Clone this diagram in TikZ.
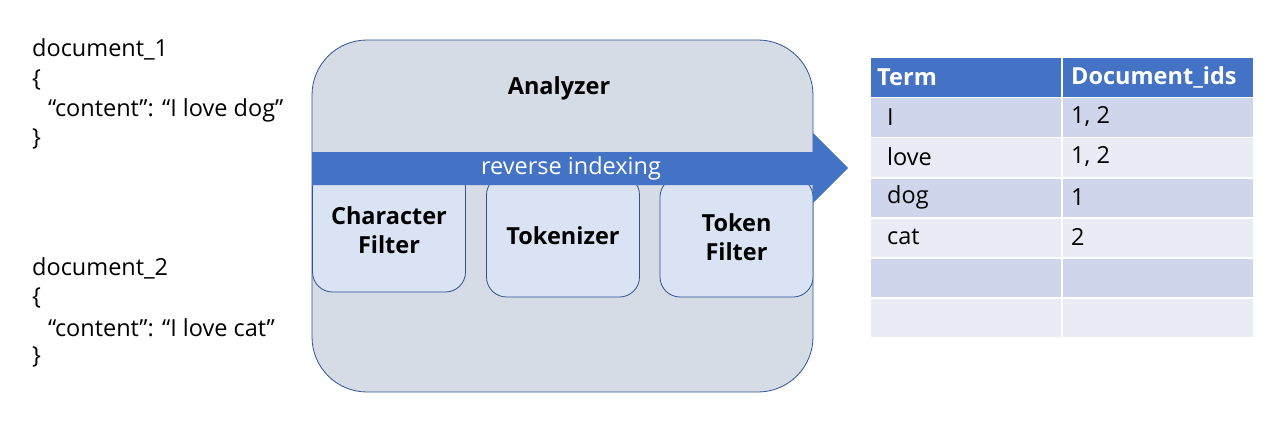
\documentclass[tikz,border=0pt]{standalone}
\usepackage{fontspec}
\setmainfont{Open Sans}
\definecolor{hdr}{HTML}{4472C4}
\definecolor{rowa}{HTML}{CFD5EA}
\definecolor{rowb}{HTML}{E9EBF5}
\definecolor{anfill}{HTML}{D6DCE5}
\definecolor{subfill}{HTML}{DAE3F3}
\definecolor{edge}{HTML}{2F528F}
\newcommand{\fs}{\fontsize{23.5}{29}\selectfont}
\tikzset{
  doctext/.style={anchor=west, inner sep=0pt, font=\fs},
  subbox/.style={draw=edge, fill=subfill, line width=0.8pt, rounded corners=20pt, minimum width=153pt, align=center, font=\fs\bfseries},
  cell/.style={draw=white, line width=1.5pt, anchor=north west, inner sep=0pt},
  celltext/.style={anchor=west, inner sep=0pt, font=\fs},
}
\begin{document}
\begin{tikzpicture}[x=1pt,y=-1pt]
\useasboundingbox (0,0) rectangle (1271,441);
% left documents
\node[doctext] (d1a) at (32,49) {document\_1};
\node[doctext] (d1b) at (32,80) {\{};
\node[doctext] (d1c) at (48,110) {“content”: “I love dog”};
\node[doctext] (d1d) at (32,139) {\}};
\node[doctext] (d2a) at (32,268) {document\_2};
\node[doctext] (d2b) at (32,298) {\{};
\node[doctext] (d2c) at (48,328) {“content”: “I love cat”};
\node[doctext] (d2d) at (32,357) {\}};
% analyzer
\node[draw=edge, fill=anfill, line width=0.8pt, rounded corners=55pt, minimum width=501pt, minimum height=352pt, inner sep=0pt] (an) at (562.5,216) {};
\node[font=\fs\bfseries] (antitle) at (559,88) {Analyzer};
% sub boxes
\node[subbox, minimum height=124pt] (cf) at (389,230) {Character\\Filter};
\node[subbox, minimum height=122pt] (tk) at (563,236) {Tokenizer};
\node[subbox, minimum height=120pt] (tf) at (736.5,237) {Token\\Filter};
% arrow
\fill[hdr] (312,152) -- (813,152) -- (813,133) -- (848,168) -- (813,203) -- (813,185) -- (312,185) -- cycle;
\node[text=white, font=\fs] (rev) at (571,168) {reverse indexing};
% table
\foreach \r/\y/\c in {0/57/hdr,1/97/rowa,2/137/rowb,3/177/rowa,4/217/rowb,5/257/rowa,6/297/rowb}{
  \node[cell, fill=\c, minimum width=192pt, minimum height=40pt] (l\r) at (869,\y) {};
  \node[cell, fill=\c, minimum width=192pt, minimum height=40pt] (r\r) at (1061,\y) {};
}
\node[celltext, text=white, font=\fs\bfseries] (th1) at (877,77) {Term};
\node[celltext, text=white, font=\fs\bfseries] (th2) at (1071,77) {Document\_ids};
\node[celltext] (t1) at (887,117) {I};
\node[celltext] (v1) at (1071,117) {1, 2};
\node[celltext] (t2) at (887,157) {love};
\node[celltext] (v2) at (1071,157) {1, 2};
\node[celltext] (t3) at (887,197) {dog};
\node[celltext] (v3) at (1071,197) {1};
\node[celltext] (t4) at (887,237) {cat};
\node[celltext] (v4) at (1071,237) {2};
\end{tikzpicture}
\end{document}
